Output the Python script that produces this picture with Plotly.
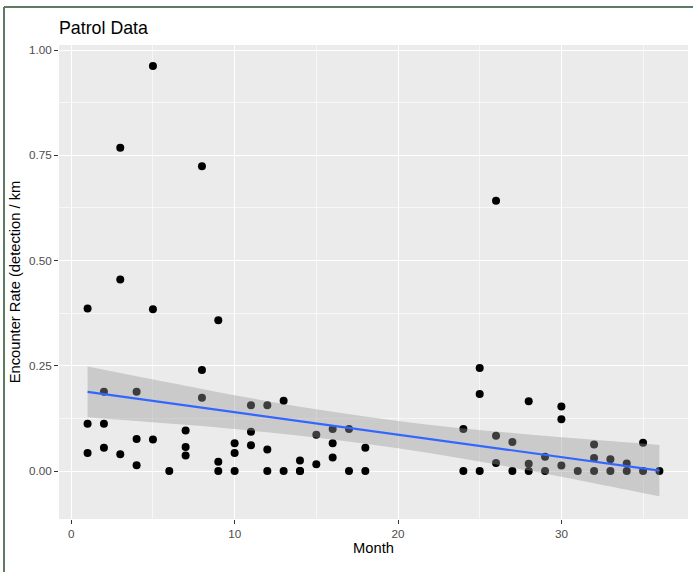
import plotly.graph_objects as go

# Observations: month and encounter rate (detection / km)
month = [1, 1, 1, 2, 2, 2, 3, 3, 3, 4, 4, 4, 5, 5, 5, 6, 7, 7, 7, 8, 8, 8,
         9, 9, 9, 10, 10, 10, 11, 11, 11, 12, 12, 12, 13, 13, 14, 14, 14,
         15, 15, 16, 16, 16, 17, 17, 18, 18,
         24, 24, 25, 25, 25, 26, 26, 26, 27, 27, 28, 28, 28, 29, 29,
         30, 30, 30, 31, 32, 32, 32, 33, 33, 34, 34, 35, 35, 36]
rate = [0.386, 0.112, 0.043, 0.188, 0.112, 0.055, 0.768, 0.455, 0.040,
        0.188, 0.076, 0.0135, 0.962, 0.384, 0.075, 0.0, 0.096, 0.057, 0.037,
        0.724, 0.240, 0.174, 0.358, 0.022, 0.0, 0.066, 0.043, 0.0,
        0.156, 0.093, 0.061, 0.156, 0.051, 0.0, 0.167, 0.0, 0.025, 0.0, 0.0,
        0.086, 0.016, 0.100, 0.066, 0.032, 0.100, 0.0, 0.055, 0.0,
        0.100, 0.0, 0.245, 0.183, 0.0, 0.642, 0.084, 0.019, 0.069, 0.0,
        0.166, 0.017, 0.0, 0.034, 0.0, 0.153, 0.123, 0.013, 0.0,
        0.063, 0.031, 0.0, 0.028, 0.0, 0.018, 0.0, 0.067, 0.0, 0.0]

# Linear smooth and its 95% confidence band
smooth_month = [1, 4, 8, 12, 16, 20, 24, 28, 32, 36]
smooth_fit = [0.188, 0.172, 0.1506, 0.1292, 0.1079, 0.0865, 0.0651, 0.0438, 0.0224, 0.001]
smooth_lo = [0.128, 0.119, 0.107, 0.092, 0.075, 0.054, 0.029, 0.001, -0.029, -0.060]
smooth_hi = [0.248, 0.225, 0.195, 0.166, 0.141, 0.119, 0.101, 0.087, 0.074, 0.062]

x_ticks = [0, 10, 20, 30]
x_tick_labels = ["0", "10", "20", "30"]
y_ticks = [0.0, 0.25, 0.5, 0.75, 1.0]
y_tick_labels = ["0.00", "0.25", "0.50", "0.75", "1.00"]

fig = go.Figure()
fig.add_trace(go.Scatter(x=month, y=rate, mode="markers",
                         marker=dict(color="black", size=8, line=dict(width=0)),
                         showlegend=False))
fig.add_trace(go.Scatter(x=smooth_month, y=smooth_lo, mode="lines",
                         line=dict(width=0, shape="spline"),
                         showlegend=False, hoverinfo="skip"))
fig.add_trace(go.Scatter(x=smooth_month, y=smooth_hi, mode="lines",
                         line=dict(width=0, shape="spline"),
                         fill="tonexty", fillcolor="rgba(153,153,153,0.4)",
                         showlegend=False, hoverinfo="skip"))
fig.add_trace(go.Scatter(x=smooth_month, y=smooth_fit, mode="lines",
                         line=dict(color="#3366FF", width=2.2),
                         showlegend=False, hoverinfo="skip"))

axis_common = dict(showline=False, zeroline=False, automargin=False,
                   ticks="outside", ticklen=4, tickwidth=1.1, tickcolor="#333333",
                   tickfont=dict(family="Liberation Sans, Arial", size=11.7, color="#4D4D4D"),
                   gridcolor="white", gridwidth=1.2)

fig.update_layout(
    width=693, height=572,
    margin=dict(l=59, r=5, t=45, b=53),
    paper_bgcolor="white", plot_bgcolor="#EBEBEB",
    font=dict(family="Liberation Sans, Arial", color="black"),
    title=dict(text="Patrol Data", x=59 / 693, xanchor="left",
               y=1 - 28 / 572, yanchor="middle",
               font=dict(size=17.8, color="black")),
    xaxis=dict(range=[-0.75, 37.75], tickvals=x_ticks, ticktext=x_tick_labels,
               title=dict(text="Month", font=dict(size=14.7, color="black"), standoff=3),
               minor=dict(dtick=5, tick0=0, showgrid=True, gridcolor="rgba(255,255,255,0.6)",
                          gridwidth=0.6, ticks=""),
               **axis_common),
    yaxis=dict(range=[-0.114, 1.012], tickvals=y_ticks, ticktext=y_tick_labels,
               title=dict(text="Encounter Rate (detection / km", font=dict(size=14.7, color="black"),
                          standoff=4),
               minor=dict(dtick=0.125, tick0=0, showgrid=True, gridcolor="rgba(255,255,255,0.6)",
                          gridwidth=0.6, ticks=""),
               **axis_common),
)

# outer frame of the screenshot (left and top edges)
fig.add_shape(type="line", xref="paper", yref="paper",
              x0=(4 - 59) / 629, x1=(700 - 59) / 629,
              y0=(519 - 7) / 474, y1=(519 - 7) / 474,
              line=dict(color="#5E7A62", width=2))
fig.add_shape(type="line", xref="paper", yref="paper",
              x0=(4 - 59) / 629, x1=(4 - 59) / 629,
              y0=(519 - 7) / 474, y1=(519 - 600) / 474,
              line=dict(color="#5E7A62", width=2))

fig.write_html("out.html", config={"displayModeBar": False},
               post_script="document.body.style.margin='0px';document.body.style.overflow='hidden';")
